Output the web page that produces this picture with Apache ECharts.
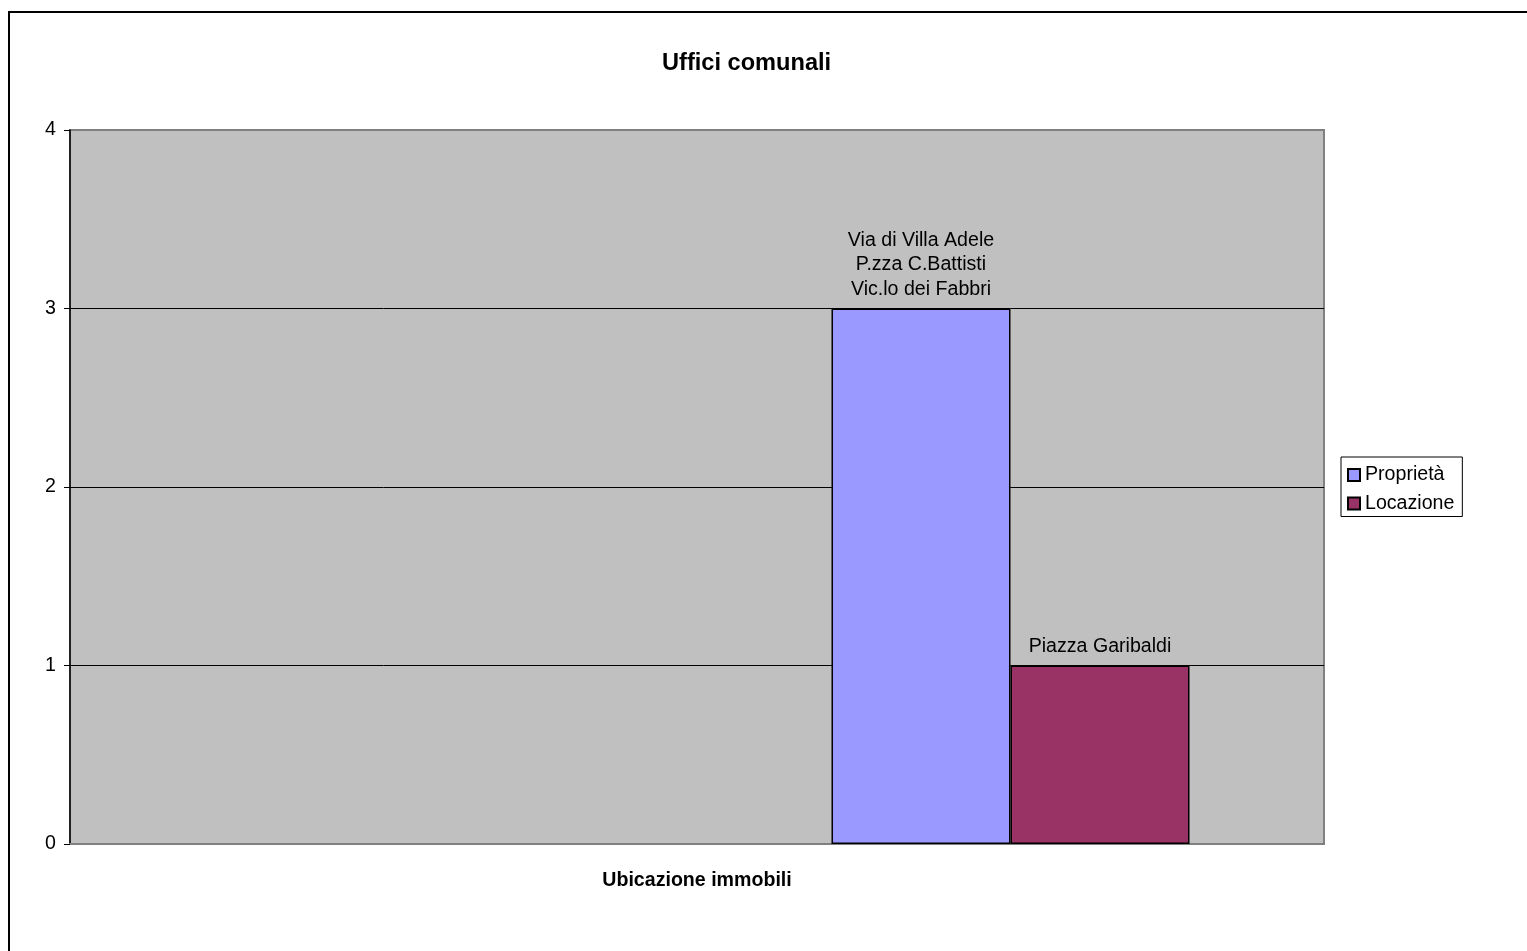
<!DOCTYPE html>
<html>
<head>
<meta charset="utf-8">
<script src="https://cdn.jsdelivr.net/npm/echarts@6/dist/echarts.min.js"></script>
<style>
html,body{margin:0;padding:0;background:#fff;}
#chart{width:1527px;height:951px;}
</style>
</head>
<body>
<div id="chart"></div>
<script>
const titleText = 'Uffici comunali';
const xAxisName = 'Ubicazione immobili';
const categories = ['', ''];
const seriesNames = ['Proprietà', 'Locazione'];
const proprietaValues = [null, 3];
const locazioneValues = [null, 1];
const proprietaLabels = ['', 'Via di Villa Adele\nP.zza C.Battisti\nVic.lo dei Fabbri'];
const locazioneLabels = ['', 'Piazza Garibaldi'];
const yMin = 0, yMax = 4, yInterval = 1;

const FONT = '"Liberation Sans", Arial, sans-serif';
const chart = echarts.init(document.getElementById('chart'), null, {renderer: 'canvas'});

function labelCfg(texts) {
  return {
    show: true,
    position: 'top',
    distance: 7,
    color: '#000',
    fontFamily: FONT,
    fontSize: 19.6,
    lineHeight: 24.5,
    align: 'center',
    formatter: p => texts[p.dataIndex]
  };
}

chart.setOption({
  animation: false,
  backgroundColor: '#fff',
  graphic: [{
    type: 'rect',
    shape: {x: 9, y: 12, width: 1540, height: 960},
    style: {fill: 'none', stroke: '#000', lineWidth: 2},
    silent: true,
    z: 100
  }],
  title: {
    text: titleText,
    left: 662,
    top: 51,
    padding: 0,
    textStyle: {fontFamily: FONT, fontSize: 23.6, fontWeight: 'bold', color: '#000'}
  },
  legend: {
    orient: 'vertical',
    left: 1341,
    top: 457,
    padding: [8, 8, 3, 6],
    itemGap: 8.5,
    itemWidth: 12,
    itemHeight: 12,
    icon: 'rect',
    borderColor: '#000',
    borderWidth: 1,
    backgroundColor: '#fff',
    textStyle: {fontFamily: FONT, fontSize: 19.6, color: '#000'},
    data: seriesNames
  },
  grid: {
    left: 70, top: 130, right: 203, bottom: 107,
    show: true,
    backgroundColor: '#C0C0C0',
    borderColor: '#808080',
    borderWidth: 2,
    containLabel: false
  },
  xAxis: {
    type: 'category',
    data: categories,
    name: xAxisName,
    nameLocation: 'middle',
    nameGap: 27,
    nameTextStyle: {fontFamily: FONT, fontSize: 19.6, fontWeight: 'bold', color: '#000'},
    axisLine: {show: true, lineStyle: {color: '#808080', width: 2}},
    axisTick: {show: false},
    axisLabel: {show: false}
  },
  yAxis: {
    type: 'value',
    min: yMin, max: yMax, interval: yInterval,
    axisLine: {show: true, lineStyle: {color: '#000', width: 1.5}},
    axisTick: {show: true, length: 6, lineStyle: {color: '#000', width: 1}},
    axisLabel: {color: '#000', fontFamily: FONT, fontSize: 19.6, margin: 14},
    splitLine: {show: true, lineStyle: {color: ['#808080', '#000', '#000', '#000', '#808080'], width: 1}}
  },
  series: [
    {
      name: seriesNames[0],
      type: 'bar',
      data: proprietaValues,
      barGap: '0%',
      barCategoryGap: '42.9%',
      itemStyle: {color: '#9999FF', borderColor: '#000', borderWidth: 1.5},
      label: labelCfg(proprietaLabels)
    },
    {
      name: seriesNames[1],
      type: 'bar',
      data: locazioneValues,
      barGap: '0%',
      barCategoryGap: '42.9%',
      itemStyle: {color: '#993366', borderColor: '#000', borderWidth: 1.5},
      label: labelCfg(locazioneLabels)
    }
  ]
});
</script>
</body>
</html>
